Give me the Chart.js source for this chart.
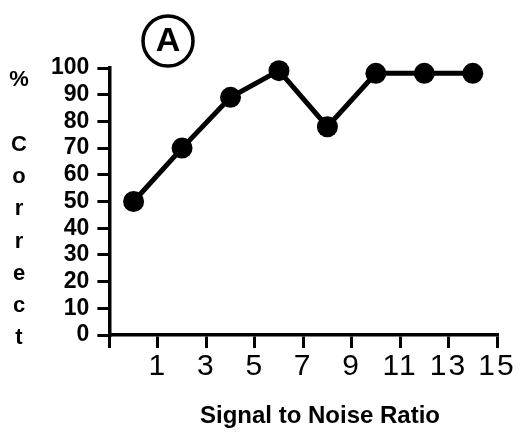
<!DOCTYPE html>
<html>
<head>
<meta charset="utf-8">
<script src="https://cdn.jsdelivr.net/npm/chart.js@4/dist/chart.umd.min.js"></script>
<style>
  html, body { margin: 0; padding: 0; background: #fff; }
  #wrap { width: 520px; height: 432px; }
</style>
</head>
<body>
<div id="wrap"><canvas id="c" width="520" height="432"></canvas></div>
<script>
// values
const snr = [0, 2, 4, 6, 8, 10, 12, 14]
const pctCorrect = [50, 70, 89, 99, 78, 98, 98, 98]
const xTicks = [1, 3, 5, 7, 9, 11, 13, 15]
const yTicks = [0, 10, 20, 30, 40, 50, 60, 70, 80, 90, 100]
const yTitle = ['%', '', 'C', 'o', 'r', 'r', 'e', 'c', 't']
const xTitle = 'Signal to Noise Ratio'
const panel = 'A'

const FONT = "'Liberation Sans', Arial, Helvetica, sans-serif"

// a little letter spacing on the x tick labels
function spaced(scale, px) {
	if (scale._spaced) return
	const orig = scale.drawLabels
	scale.drawLabels = function(area) {
		const ctx = this.ctx
		ctx.save()
		ctx.letterSpacing = px
		orig.call(this, area)
		ctx.restore()
	}
	scale._spaced = true
}

const extras = {
	id: 'extras',
	afterUpdate(chart) {
		spaced(chart.scales.x, '2px')
	},
	afterDraw(chart) {
		const ctx = chart.ctx
		ctx.save()
		ctx.fillStyle = '#000'
		ctx.strokeStyle = '#000'
		ctx.letterSpacing = '0px'

		// circled panel letter
		ctx.lineWidth = 3.5
		ctx.beginPath()
		ctx.arc(168, 41, 25, 0, Math.PI * 2)
		ctx.stroke()
		ctx.font = 'bold 34px ' + FONT
		ctx.textAlign = 'center'
		ctx.textBaseline = 'middle'
		ctx.fillText(panel, 168, 42)

		// stacked y title
		ctx.font = 'bold 22px ' + FONT
		yTitle.forEach((ch, i) => {
			if (ch) ctx.fillText(ch, 19, 80 + i * 32.3)
		})

		// x title
		ctx.font = 'bold 24px ' + FONT
		ctx.textBaseline = 'alphabetic'
		ctx.fillText(xTitle, 320, 423)
		ctx.restore()
	}
}

new Chart(document.getElementById('c'), {
	type: 'scatter',
	data: {
		datasets: [{
			data: snr.map((x, i) => ({ x: x, y: pctCorrect[i] })),
			showLine: true,
			borderColor: '#000',
			borderWidth: 5,
			backgroundColor: '#000',
			pointRadius: 10.5,
			pointHoverRadius: 10.5,
			pointBorderWidth: 0,
			tension: 0,
			clip: false
		}]
	},
	options: {
		responsive: false,
		animation: false,
		events: [],
		layout: { padding: { left: 43, right: 23, top: 68, bottom: 47 } },
		plugins: {
			legend: { display: false },
			tooltip: { enabled: false }
		},
		scales: {
			x: {
				type: 'linear',
				min: -1,
				max: 15,
				afterBuildTicks: (s) => { s.ticks = [-1].concat(xTicks).map(v => ({ value: v })) },
				afterFit: (s) => { s.height = 50 },
				grid: { drawOnChartArea: false, tickLength: 13, lineWidth: 3, color: '#000' },
				border: { color: '#000', width: 3.5 },
				ticks: {
					autoSkip: false,
					maxRotation: 0,
					padding: 1,
					color: '#000',
					font: { family: FONT, size: 30 },
					callback: (v) => v < 0 ? '' : v
				}
			},
			y: {
				min: 0,
				max: 100,
				afterBuildTicks: (s) => { s.ticks = yTicks.map(v => ({ value: v })) },
				grid: { drawOnChartArea: false, tickLength: 12, lineWidth: 3, color: '#000' },
				border: { color: '#000', width: 3.5 },
				ticks: {
					autoSkip: false,
					padding: 8,
					color: '#000',
					font: { family: FONT, size: 23, weight: 'bold' }
				}
			}
		}
	},
	plugins: [extras]
})
</script>
</body>
</html>
